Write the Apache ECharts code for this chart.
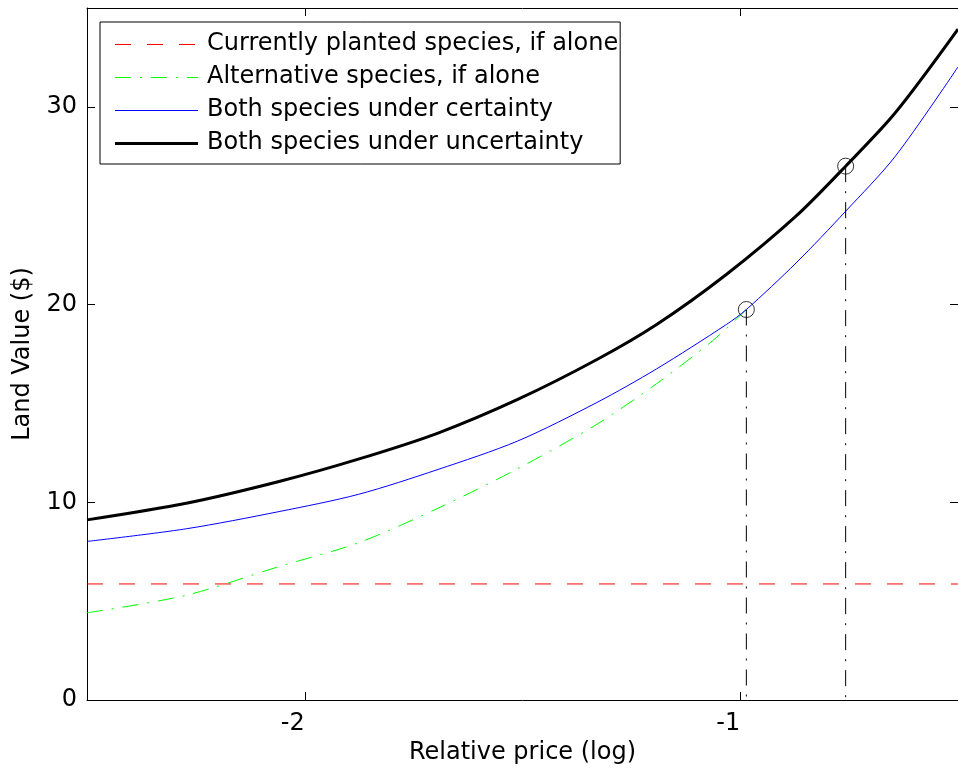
<!DOCTYPE html>
<html>
<head>
<meta charset="utf-8">
<script src="https://cdn.jsdelivr.net/npm/echarts@6/dist/echarts.min.js"></script>
<style>html,body{margin:0;padding:0;background:#fff;}#c{width:958px;height:778px;}</style>
</head>
<body>
<div id="c"></div>
<script>
// ---- data ----
const xTicks = [-2, -1];
const yTicks = [0, 10, 20, 30];

const currentX = [-2.5, -0.5];
const currentY = [5.87, 5.87];

const altX = [-2.5, -2.272, -2.059, -1.877, -1.694, -1.511, -1.329, -1.192, -1.062, -0.986];
const altY = [4.41, 5.3, 6.75, 7.95, 9.7, 11.7, 13.95, 16.0, 18.2, 19.75];

const certX = [-2.5, -2.272, -2.059, -1.877, -1.694, -1.511, -1.329, -1.192, -1.032, -0.986, -0.872, -0.758, -0.644, -0.5];
const certY = [8.02, 8.66, 9.53, 10.4, 11.66, 13.1, 15.05, 16.75, 18.99, 19.75, 22.1, 24.72, 27.5, 32.02];

const uncX = [-2.5, -2.272, -2.059, -1.877, -1.694, -1.511, -1.329, -1.192, -1.032, -0.872, -0.758, -0.644, -0.5];
const uncY = [9.11, 9.95, 11.05, 12.18, 13.5, 15.2, 17.22, 18.99, 21.52, 24.47, 27.0, 29.7, 33.93];

const markerX = [-0.986, -0.758];
const markerY = [19.75, 27.0];

const names = [
  'Currently planted species, if alone',
  'Alternative species, if alone',
  'Both species under certainty',
  'Both species under uncertainty'
];

// ---- build ----
const zip = (xs, ys) => xs.map((x, i) => [x, ys[i]]);
const FONT = 'DejaVu Sans';
const dashDot = [16, 9, 2, 9];
const colors = ['#ff0000', '#00ff00', '#0000ff', '#000000'];
const widths = [1, 1, 1, 3];
const dashes = [[16, 16], dashDot, 'solid', 'solid'];

const series = names.map((n, i) => {
  const xs = [currentX, altX, certX, uncX][i];
  const ys = [currentY, altY, certY, uncY][i];
  return { name: n, type: 'line', data: zip(xs, ys), symbol: 'none', smooth: i === 0 ? false : 0.3,
    lineStyle: { color: colors[i], width: widths[i], type: dashes[i] }, itemStyle: { color: colors[i] } };
});
markerX.forEach((mx, i) => {
  series.push({ type: 'line', data: [[mx, markerY[i]], [mx, 0]], symbol: 'none', silent: true,
    lineStyle: { color: '#000', width: 1, type: dashDot } });
});
series.push({ type: 'scatter', data: zip(markerX, markerY), symbol: 'circle', symbolSize: 16, z: 5,
  itemStyle: { color: 'rgba(0,0,0,0)', borderColor: '#000', borderWidth: 1 } });

const axisLineStyle = { show: true, onZero: false, lineStyle: { color: '#000', width: 1 } };
const tickStyle = { show: true, inside: true, length: 8, lineStyle: { color: '#000', width: 1 } };

// legend layout (box position / row pitch)
const LEG_LEFT = 100, LEG_TOP = 22, PAD = [5, 2, 5, 15], ROW = 33, SAMPLE_W = 83;
const legendSamples = names.map((n, i) => {
  const y = LEG_TOP + PAD[0] + ROW * i + ROW / 2;
  const yy = widths[i] % 2 === 1 ? Math.round(y) + 0.5 : Math.round(y);
  return {
    type: 'line', z: 200, silent: true,
    shape: { x1: LEG_LEFT + PAD[3], y1: yy, x2: LEG_LEFT + PAD[3] + SAMPLE_W, y2: yy },
    style: { stroke: colors[i], lineWidth: widths[i], lineDash: dashes[i] === 'solid' ? null : dashes[i] }
  };
});

const option = {
  animation: false,
  backgroundColor: '#fff',
  grid: { left: 87, top: 8, width: 876, height: 692, containLabel: false },
  legend: {
    orient: 'vertical', left: LEG_LEFT, top: LEG_TOP,
    padding: PAD,
    itemWidth: SAMPLE_W, itemHeight: 15, itemGap: 0,
    icon: 'rect',
    itemStyle: { color: 'rgba(0,0,0,0)', borderWidth: 0, opacity: 0 },
    lineStyle: { opacity: 0 },
    backgroundColor: '#fff', borderColor: '#000', borderWidth: 1, borderRadius: 0,
    selectedMode: false,
    textStyle: { fontFamily: FONT, fontSize: 24, color: '#000', lineHeight: ROW, padding: [0, 0, 0, 4] },
    data: names
  },
  graphic: legendSamples,
  xAxis: [
    { type: 'value', min: -2.5, max: -0.5, position: 'bottom',
      name: 'Relative price (log)', nameLocation: 'middle', nameGap: 28,
      nameTextStyle: { fontFamily: FONT, fontSize: 24, color: '#000' },
      axisLine: axisLineStyle,
      axisTick: Object.assign({ customValues: xTicks }, tickStyle),
      axisLabel: { customValues: xTicks, fontFamily: FONT, fontSize: 24, color: '#000', margin: 12, align: 'right' },
      splitLine: { show: false } },
    { type: 'value', min: -2.5, max: -0.5, position: 'top',
      axisLine: axisLineStyle,
      axisTick: Object.assign({ customValues: xTicks }, tickStyle),
      axisLabel: { show: false }, splitLine: { show: false } }
  ],
  yAxis: [
    { type: 'value', min: 0, max: 35, position: 'left',
      name: 'Land Value ($)', nameLocation: 'middle', nameGap: 52,
      nameTextStyle: { fontFamily: FONT, fontSize: 24, color: '#000' },
      axisLine: axisLineStyle,
      axisTick: Object.assign({ customValues: yTicks }, tickStyle),
      axisLabel: { customValues: yTicks, fontFamily: FONT, fontSize: 24, color: '#000', margin: 10 },
      splitLine: { show: false } },
    { type: 'value', min: 0, max: 35, position: 'right',
      axisLine: axisLineStyle,
      axisTick: Object.assign({ customValues: yTicks }, tickStyle),
      axisLabel: { show: false }, splitLine: { show: false } }
  ],
  series: series
};

const chart = echarts.init(document.getElementById('c'), null, { renderer: 'canvas' });
chart.setOption(option);
</script>
</body>
</html>
